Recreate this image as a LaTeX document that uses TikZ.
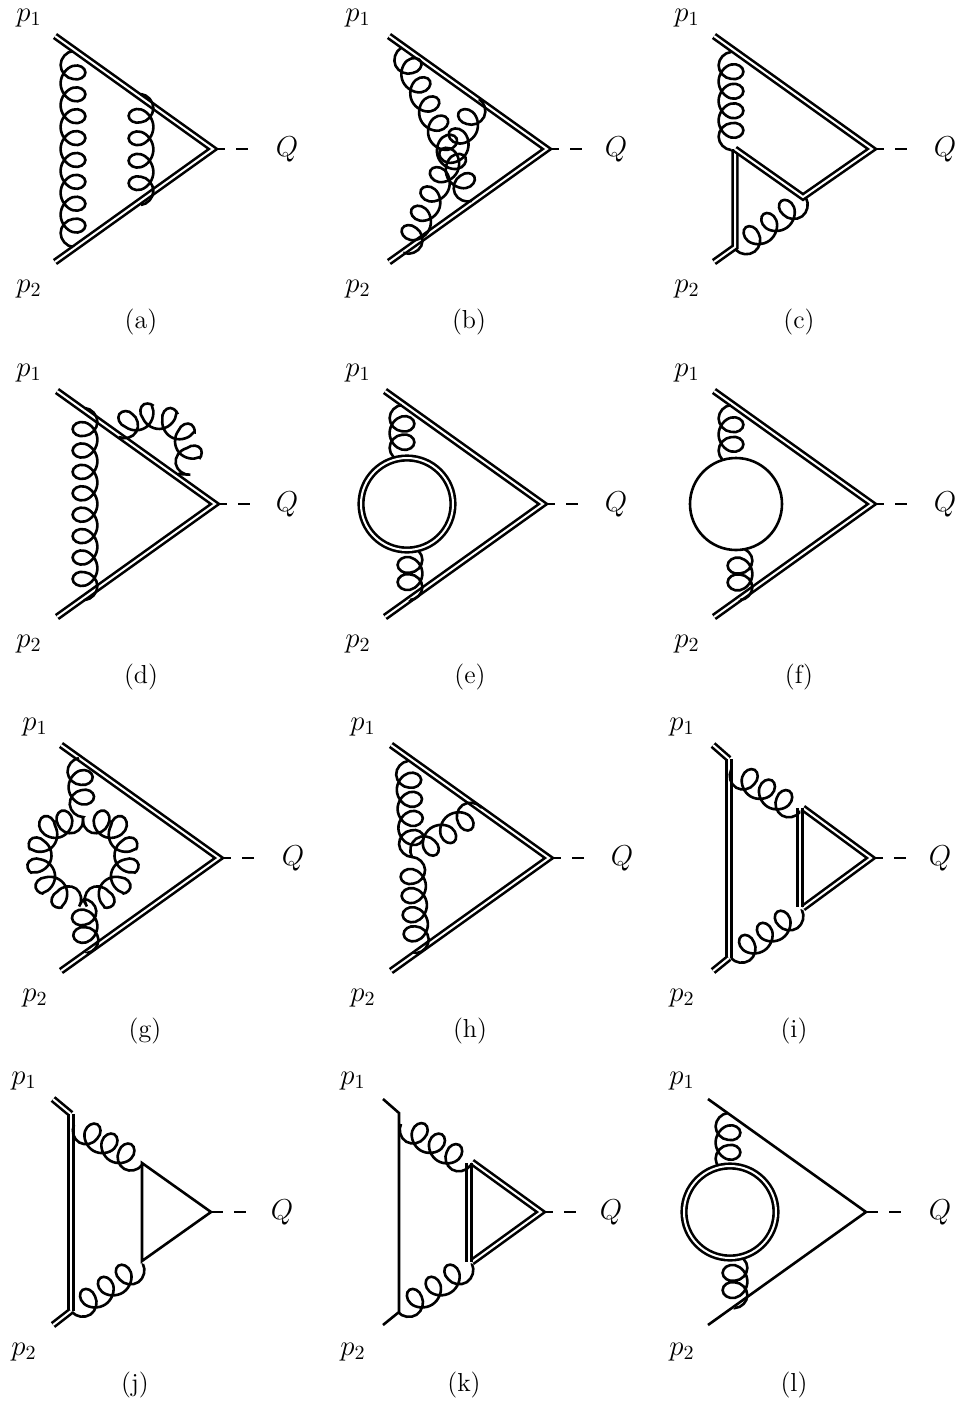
\documentclass[tikz,border=0pt]{standalone}
\usetikzlibrary{decorations,calc}

% one gluon: a shortened outer half turn at both ends, full turns between
\newcommand{\gluonpt}[3]{\pgfpoint{#1*\gluonR+#3*\gluonl/12}{#2*\pgfdecorationsegmentamplitude}}
\newcommand{\gluonouter}{%
  \pgfpathcurveto{\gluonpt{0}{0.5236}{1}}{\gluonpt{0.4764}{1}{2}}{\gluonpt{1}{1}{3}}%
  \pgfpathcurveto{\gluonpt{1.5236}{1}{4}}{\gluonpt{2}{0.5236}{5}}{\gluonpt{2}{0}{6}}}
\newcommand{\gluoninner}{%
  \pgfpathcurveto{\gluonpt{2}{-0.5236}{1}}{\gluonpt{1.5236}{-1}{2}}{\gluonpt{1}{-1}{3}}%
  \pgfpathcurveto{\gluonpt{0.4764}{-1}{4}}{\gluonpt{0}{-0.5236}{5}}{\gluonpt{0}{0}{6}}}
\pgfdeclaredecoration{gluoncoil}{init}{
  \state{init}[width=0pt, next state=first,
    persistent precomputation={
      \pgfmathsetmacro\gluonR{\pgfdecorationsegmentaspect*\pgfdecorationsegmentamplitude}
      \pgfmathsetmacro\gluonstep{(\pgfdecoratedpathlength+7-2*\gluonR)/(\gluonturns+0.5)}
      \pgfmathsetmacro\gluonend{\gluonstep-7}
      \pgfmathsetmacro\gluonlast{\gluonend/2+2*\gluonR+\gluonstep/4}}]{}
  \state{first}[width=\gluonend/2, next state=inner]{\let\gluonl\gluonend\gluonouter}
  \state{inner}[width=\gluonstep/2, next state=outer]{\let\gluonl\gluonstep\gluoninner}
  \state{outer}[switch if less than=\gluonlast pt to last, width=\gluonstep/2, next state=inner]{\let\gluonl\gluonstep\gluonouter}
  \state{last}[width=\gluonend/2, next state=final]{\let\gluonl\gluonend\gluonouter}
  \state{final}{\pgfpathlineto{\pgfpointdecoratedpathlast}}
}

\begin{document}
\begin{tikzpicture}[
  x=0.5pt, y=-0.5pt,
  line width=1.3pt,
  quark/.style={double, double distance=1pt, line join=miter},
  scalar/.style={dash pattern=on 6pt off 5.5pt},
  gluon/.style={decorate, decoration={gluoncoil, amplitude=6.2pt, aspect=0.97},
                /utils/exec={\def\gluonturns{#1}}},
  gluonm/.style={decorate, decoration={gluoncoil, amplitude=6.2pt, aspect=0.97, mirror},
                /utils/exec={\def\gluonturns{#1}}},
  bubble/.style={circle, draw, fill=white, minimum size=46pt, inner sep=0pt},
  leg/.style={font=\Large},
  tag/.style={font=\fontsize{13}{15}\selectfont},
]
\useasboundingbox (0,0) rectangle (959,1405);

% vertices, legs and labels of all twelve panels
\foreach \n/\x/\y/\px/\qx/\cx in {a/213/149/29/287/141, b/547/149/358/616/469, c/872/149/687/945/799,
                          d/215/504/29/287/141, e/543/504/358/616/470, f/872/504/687/945/799,
                          g/219/858/35/293/145, h/549/858/363/622/470, i/871/858/682/940/794,
                          j/211/1212/24/282/135, k/541/1212/353/611/464, l/866/1212/682/940/794} {
  \coordinate (v\n) at (\x,\y);
  \coordinate (u\n) at (\x-158,\y-113);
  \coordinate (d\n) at (\x-158,\y+113);
  \coordinate (e\n) at (\x+41,\y);
  \node[leg] (p1\n) at (\px,\y-131) {$p_1$};
  \node[leg] (p2\n) at (\px,\y+140) {$p_2$};
  \node[leg] (Q\n) at (\qx,\y) {$Q$};
  \node[tag] (cap\n) at (\cx,\y+173) {(\n)};
  \draw[scalar] (v\n) -- (e\n);
}

% (a)
\draw[quark] (ua) -- (va) -- (da);
\coordinate (a1) at (73,51);
\coordinate (a2) at (73,247);
\coordinate (a3) at (141,94);
\coordinate (a4) at (141,205);
\draw[gluonm=8] (a1) -- (a2);
\draw[gluon=4] (a3) -- (a4);

% (b)
\draw[quark] (ub) -- (vb) -- (db);
\coordinate (b1) at (401,48);
\coordinate (b2) at (472,201);
\coordinate (b3) at (479,99);
\coordinate (b4) at (404,253);
\draw[gluonm=7] (b1) -- (b2);
\draw[gluon=7] (b3) -- (b4);

% (c)
\coordinate (c1) at (735,149);
\coordinate (c2) at (735,247);
\coordinate (c3) at (803,197);
\coordinate (c4) at (731,52);
\coordinate (c5) at (731,150);
\coordinate (c6) at (736,250);
\coordinate (c7) at (806,198);
\draw[quark] (dc) -- (c2) -- (c1);
\draw[quark] (c1) -- (c3) -- (vc) -- (uc);
\draw[gluonm=4] (c4) -- (c5);
\draw[gluonm=3] (c6) -- (c7);

% (d)
\draw[quark] (ud) -- (vd) -- (dd);
\coordinate (d1) at (85,408);
\coordinate (d2) at (85,600);
\coordinate (d3) at (119,437);
\coordinate (d4) at (178,474);
\draw[gluon=8] (d1) -- (d2);
\draw[gluonm=5] (d3) arc[start angle=-150, end angle=-10, radius=36] -- (d4);

% (e)
\draw[quark] (ue) -- (ve) -- (de);
\coordinate (e1) at (402,405);
\coordinate (e2) at (402,461);
\coordinate (e3) at (410,547);
\coordinate (e4) at (410,600);
\draw[gluonm=2] (e1) -- (e2);
\draw[gluon=2] (e3) -- (e4);
\node[bubble, quark] (loope) at (407,504) {};

% (f)
\draw[quark] (uf) -- (vf) -- (df);
\coordinate (f1) at (731,405);
\coordinate (f2) at (731,464);
\coordinate (f3) at (740,548);
\coordinate (f4) at (740,600);
\draw[gluonm=2] (f1) -- (f2);
\draw[gluon=2] (f3) -- (f4);
\node[bubble] (loopf) at (736,504) {};

% (g)
\draw[quark] (ug) -- (vg) -- (dg);
\coordinate (g1) at (79,758);
\coordinate (g2) at (83,817);
\coordinate (g3) at (83,899);
\coordinate (g4) at (87,953);
\coordinate (g5) at (59.5,824.4);
\coordinate (g7) at (106.5,824.4);
\draw[gluonm=2] (g1) -- (g2);
\draw[gluon=2] (g3) -- (g4);
\draw[gluon=6] (g2) -- (g5) arc[start angle=-125, end angle=-235, radius=41] -- (g3);
\draw[gluonm=6] (g2) -- (g7) arc[start angle=-55, end angle=55, radius=41] -- (g3);

% (h)
\draw[quark] (uh) -- (vh) -- (dh);
\coordinate (h1) at (408,761);
\coordinate (h2) at (412,857);
\coordinate (h3) at (417,953);
\coordinate (h4) at (481,807);
\draw[gluonm=4] (h1) -- (h2);
\draw[gluon=4] (h2) -- (h3);
\draw[gluon=3] (h2) -- (h4);

% (i)
\coordinate (i1) at (729,759);
\coordinate (i2) at (729,958);
\coordinate (i3) at (800,808);
\coordinate (i4) at (800,907);
\coordinate (i5) at (731,770);
\coordinate (i6) at (800,812);
\coordinate (i7) at (731,958);
\coordinate (i8) at (802,910);
\coordinate (i9) at (803,808);
\coordinate (i10) at (803,908);
\draw[quark] (ui) -- (i1);
\draw[quark] (i1) -- (i2);
\draw[quark] (i2) -- (di);
\draw[quark] (i9) -- (vi) -- (i10);
\draw[quark] (i3) -- (i4);
\draw[gluonm=3] (i5) -- (i6);
\draw[gluonm=3] (i7) -- (i8);

% (j)
\coordinate (j1) at (71,1114);
\coordinate (j2) at (71,1311);
\coordinate (j3) at (142,1163);
\coordinate (j4) at (142,1261);
\coordinate (j5) at (74,1125);
\coordinate (j6) at (142,1165);
\coordinate (j7) at (72,1312);
\coordinate (j8) at (143,1264);
\draw[quark] (uj) -- (j1);
\draw[quark] (j1) -- (j2);
\draw[quark] (j2) -- (dj);
\draw (j3) -- (vj) -- (j4) -- cycle;
\draw[gluonm=3] (j5) -- (j6);
\draw[gluonm=3] (j7) -- (j8);

% (k)
\coordinate (k1) at (399,1113);
\coordinate (k2) at (399,1312);
\coordinate (k3) at (469,1163);
\coordinate (k4) at (469,1262);
\coordinate (k5) at (401,1124);
\coordinate (k6) at (470,1166);
\coordinate (k7) at (398,1312);
\coordinate (k8) at (472,1264);
\coordinate (k9) at (472,1162);
\coordinate (k10) at (472,1262);
\draw (uk) -- (k1) -- (k2) -- (dk);
\draw[quark] (k9) -- (vk) -- (k10);
\draw[quark] (k3) -- (k4);
\draw[gluonm=3] (k5) -- (k6);
\draw[gluonm=3] (k7) -- (k8);

% (l)
\draw (ul) -- (vl) -- (dl);
\coordinate (l1) at (728,1113);
\coordinate (l2) at (728,1172);
\coordinate (l3) at (735,1255);
\coordinate (l4) at (735,1308);
\draw[gluonm=2] (l1) -- (l2);
\draw[gluon=2] (l3) -- (l4);
\node[bubble, quark] (loopl) at (730,1212) {};
\end{tikzpicture}
\end{document}
